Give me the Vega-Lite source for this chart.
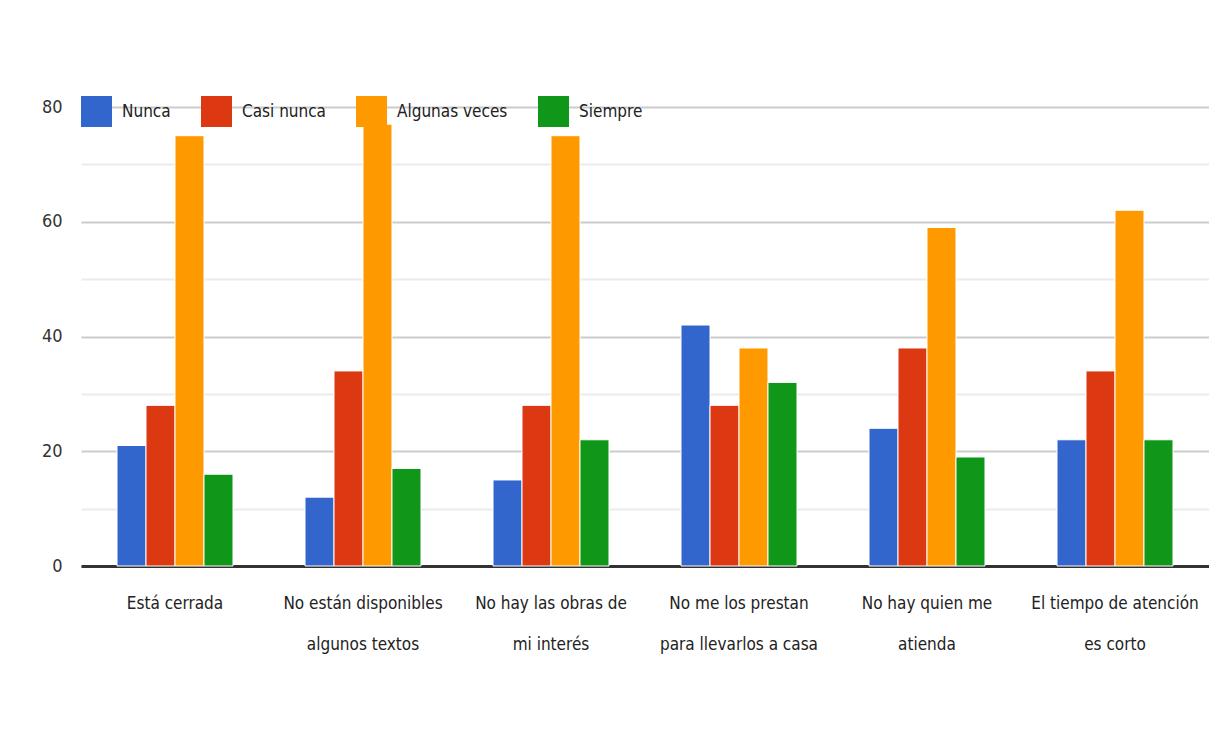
{
  "$schema": "https://vega.github.io/schema/vega-lite/v6.json",
  "width": 1128,
  "height": 459,
  "autosize": {"type": "none"},
  "padding": {"left": 81, "top": 107, "right": 0, "bottom": 190},
  "background": "white",
  "config": {
    "view": {"stroke": null},
    "font": "'Liberation Sans Narrow', 'DejaVu Sans Condensed', 'Roboto Condensed', Roboto, sans-serif"
  },
  "data": {
    "values": [
      {"motivo": "Está cerrada", "frecuencia": "Nunca", "valor": 21},
      {"motivo": "Está cerrada", "frecuencia": "Casi nunca", "valor": 28},
      {"motivo": "Está cerrada", "frecuencia": "Algunas veces", "valor": 75},
      {"motivo": "Está cerrada", "frecuencia": "Siempre", "valor": 16},
      {"motivo": "No están disponibles|algunos textos", "frecuencia": "Nunca", "valor": 12},
      {"motivo": "No están disponibles|algunos textos", "frecuencia": "Casi nunca", "valor": 34},
      {"motivo": "No están disponibles|algunos textos", "frecuencia": "Algunas veces", "valor": 77},
      {"motivo": "No están disponibles|algunos textos", "frecuencia": "Siempre", "valor": 17},
      {"motivo": "No hay las obras de|mi interés", "frecuencia": "Nunca", "valor": 15},
      {"motivo": "No hay las obras de|mi interés", "frecuencia": "Casi nunca", "valor": 28},
      {"motivo": "No hay las obras de|mi interés", "frecuencia": "Algunas veces", "valor": 75},
      {"motivo": "No hay las obras de|mi interés", "frecuencia": "Siempre", "valor": 22},
      {"motivo": "No me los prestan|para llevarlos a casa", "frecuencia": "Nunca", "valor": 42},
      {"motivo": "No me los prestan|para llevarlos a casa", "frecuencia": "Casi nunca", "valor": 28},
      {"motivo": "No me los prestan|para llevarlos a casa", "frecuencia": "Algunas veces", "valor": 38},
      {"motivo": "No me los prestan|para llevarlos a casa", "frecuencia": "Siempre", "valor": 32},
      {"motivo": "No hay quien me|atienda", "frecuencia": "Nunca", "valor": 24},
      {"motivo": "No hay quien me|atienda", "frecuencia": "Casi nunca", "valor": 38},
      {"motivo": "No hay quien me|atienda", "frecuencia": "Algunas veces", "valor": 59},
      {"motivo": "No hay quien me|atienda", "frecuencia": "Siempre", "valor": 19},
      {"motivo": "El tiempo de atención|es corto", "frecuencia": "Nunca", "valor": 22},
      {"motivo": "El tiempo de atención|es corto", "frecuencia": "Casi nunca", "valor": 34},
      {"motivo": "El tiempo de atención|es corto", "frecuencia": "Algunas veces", "valor": 62},
      {"motivo": "El tiempo de atención|es corto", "frecuencia": "Siempre", "valor": 22}
    ]
  },
  "mark": {"type": "bar", "stroke": "white", "strokeWidth": 1},
  "encoding": {
    "x": {
      "field": "motivo",
      "type": "nominal",
      "sort": null,
      "scale": {"paddingInner": 0.383, "paddingOuter": 0.1915},
      "axis": {
        "title": null,
        "labelAngle": 0,
        "labelExpr": "split(datum.label, '|')",
        "labelFontSize": 17,
        "labelColor": "#222222",
        "labelLineHeight": 41,
        "labelPadding": 29,
        "labelBaseline": "top",
        "labelLimit": 0,
        "ticks": false,
        "grid": false,
        "domainColor": "#333333",
        "domainWidth": 3
      }
    },
    "xOffset": {
      "field": "frecuencia",
      "type": "nominal",
      "sort": ["Nunca", "Casi nunca", "Algunas veces", "Siempre"],
      "scale": {"paddingInner": 0, "paddingOuter": 0}
    },
    "y": {
      "field": "valor",
      "type": "quantitative",
      "scale": {"domain": [0, 80], "nice": false},
      "axis": {
        "title": null,
        "values": [0, 10, 20, 30, 40, 50, 60, 70, 80],
        "labelExpr": "datum.value % 20 === 0 ? datum.label : ''",
        "labelFontSize": 18,
        "labelColor": "#333333",
        "labelPadding": 19,
        "ticks": false,
        "domain": false,
        "gridWidth": 2,
        "gridColor": {"condition": {"test": "datum.value % 20 === 0", "value": "#cccccc"}, "value": "#ebebeb"}
      }
    },
    "color": {
      "field": "frecuencia",
      "type": "nominal",
      "sort": ["Nunca", "Casi nunca", "Algunas veces", "Siempre"],
      "scale": {
        "domain": ["Nunca", "Casi nunca", "Algunas veces", "Siempre"],
        "range": ["#3366cc", "#dc3912", "#ff9900", "#109618"]
      },
      "legend": {
        "title": null,
        "orient": "none",
        "legendX": 0,
        "legendY": -11,
        "direction": "horizontal",
        "symbolType": "square",
        "symbolSize": 961,
        "symbolStrokeWidth": 0,
        "labelFontSize": 17,
        "labelColor": "#222222",
        "labelOffset": 10,
        "labelLimit": 0,
        "columnPadding": 30
      }
    }
  }
}
